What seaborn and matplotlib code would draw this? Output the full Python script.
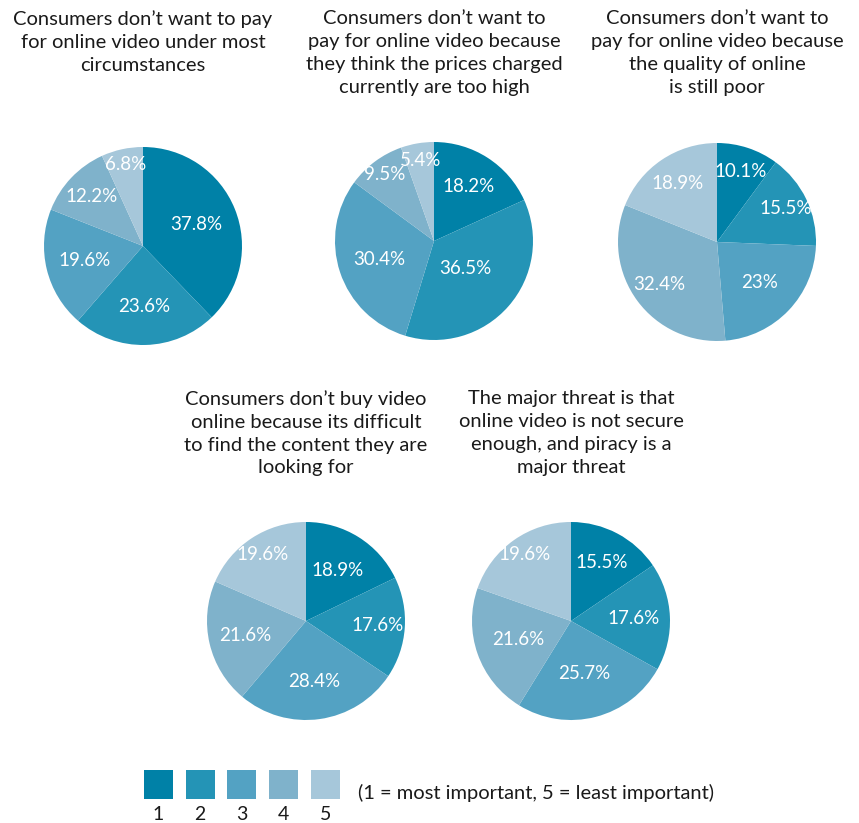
import matplotlib
matplotlib.use("Agg")
import matplotlib.pyplot as plt
import seaborn as sns
import numpy as np
from matplotlib.patches import Rectangle

sns.set_theme(style="white")
plt.rcParams['font.family'] = ['Lato', 'DejaVu Sans']

# ---- data ----
titles = [
    "Consumers don\u2019t want to pay\nfor online video under most\ncircumstances",
    "Consumers don\u2019t want to\npay for online video because\nthey think the prices charged\ncurrently are too high",
    "Consumers don\u2019t want to\npay for online video because\nthe quality of online\nis still poor",
    "Consumers don\u2019t buy video\nonline because its difficult\nto find the content they are\nlooking for",
    "The major threat is that\nonline video is not secure\nenough, and piracy is a\nmajor threat",
]
ranks = ["1", "2", "3", "4", "5"]
pie1 = [37.8, 23.6, 19.6, 12.2, 6.8]
pie2 = [18.2, 36.5, 30.4, 9.5, 5.4]
pie3 = [10.1, 15.5, 23, 32.4, 18.9]
pie4 = [18.9, 17.6, 28.4, 21.6, 19.6]
pie5 = [15.5, 17.6, 25.7, 21.6, 19.6]
all_values = [pie1, pie2, pie3, pie4, pie5]
legend_note = "(1 = most important, 5 = least important)"

# ---- style (label radial distance per slice, as fraction of radius) ----
label_r = [
    [0.58, 0.61, 0.61, 0.72, 0.84],
    [0.65, 0.42, 0.58, 0.83, 0.82],
    [0.75, 0.77, 0.59, 0.73, 0.71],
    [0.60, 0.72, 0.62, 0.63, 0.80],
    [0.67, 0.63, 0.55, 0.57, 0.82],
]

colors = sns.color_palette(["#0081A7", "#2494B6", "#53A2C3", "#7FB2CB", "#A6C7DA"])

W, H = 859, 823
fig = plt.figure(figsize=(W / 100, H / 100), dpi=100)

centers = [(143, 246), (434, 241), (717, 242), (306, 621), (571, 621)]
title_tops = [10, 10, 10, 390, 390]
R = 99

def fmt(v):
    s = ("%.1f" % v)
    if s.endswith(".0"):
        s = s[:-2]
    return s + "%"

for vals, title, (cx, cy), tt, lr in zip(all_values, titles, centers, title_tops, label_r):
    ax = fig.add_axes([(cx - R) / W, (H - cy - R) / H, 2 * R / W, 2 * R / H])
    wedges, _ = ax.pie(vals, colors=colors, startangle=90, counterclock=False,
                       wedgeprops=dict(linewidth=0))
    for w, v, d in zip(wedges, vals, lr):
        ang = np.deg2rad((w.theta1 + w.theta2) / 2)
        ax.text(d * np.cos(ang), d * np.sin(ang), fmt(v), ha="center", va="center",
                color="white", fontsize=13.5)
    ax.set_xlim(-1, 1)
    ax.set_ylim(-1, 1)
    ax.set_aspect("equal")
    ax.axis("off")
    fig.text(cx / W, 1 - tt / H, title, ha="center", va="top", fontsize=14.5,
             linespacing=1.42, color="#1a1a1a")

# legend
lax = fig.add_axes([0, 0, 1, 1])
lax.set_xlim(0, W)
lax.set_ylim(H, 0)
lax.axis("off")
x0, step, sq, ytop = 144, 41.7, 29, 770
for i, (r, c) in enumerate(zip(ranks, colors)):
    x = x0 + i * step
    lax.add_patch(Rectangle((x, ytop), sq, sq, facecolor=c, edgecolor="none"))
    lax.text(x + sq / 2, 815, r, ha="center", va="center", fontsize=14, color="#1a1a1a")
lax.text(358, 793, legend_note, ha="left", va="center", fontsize=14.5, color="#1a1a1a")

fig.savefig("out.png", dpi=100)
